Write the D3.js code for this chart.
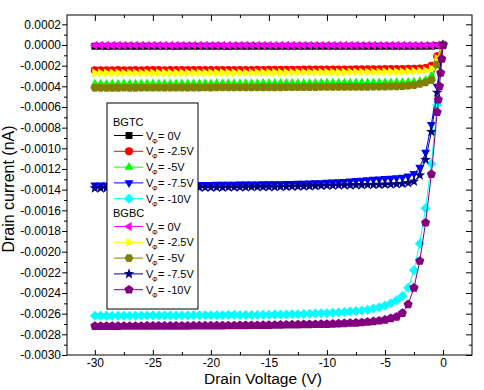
<!DOCTYPE html>
<html>
<head>
<meta charset="utf-8">
<script src="https://cdn.jsdelivr.net/npm/d3@7"></script>
<style>
body { margin: 0; background: #fff; }
text { font-family: "Liberation Sans", Arial, sans-serif; }
.legend text { font-family: "Liberation Sans Narrow", "Liberation Sans", Arial, sans-serif; }
</style>
</head>
<body>
<div class="ivChart"></div>
<script>
// drain voltage (V)
var drainV = [-30,-29.5,-29,-28.5,-28,-27.5,-27,-26.5,-26,-25.5,
  -25,-24.5,-24,-23.5,-23,-22.5,-22,-21.5,-21,-20.5,
  -20,-19.5,-19,-18.5,-18,-17.5,-17,-16.5,-16,-15.5,
  -15,-14.5,-14,-13.5,-13,-12.5,-12,-11.5,-11,-10.5,
  -10,-9.5,-9,-8.5,-8,-7.5,-7,-6.5,-6,-5.5,
  -5,-4.5,-4,-3.5,-3,-2.5,-2,-1.5,-1,-0.5,0];

// drain current, in units of 1e-4 nA
var bgtc0 = [-0.12,-0.12,-0.13,-0.12,-0.12,-0.12,-0.12,-0.13,-0.12,-0.12,
  -0.12,-0.12,-0.12,-0.12,-0.13,-0.12,-0.12,-0.12,-0.12,-0.12,
  -0.12,-0.12,-0.12,-0.13,-0.12,-0.12,-0.12,-0.12,-0.12,-0.12,
  -0.12,-0.13,-0.12,-0.12,-0.12,-0.12,-0.12,-0.12,-0.12,-0.12,
  -0.12,-0.12,-0.12,-0.12,-0.12,-0.12,-0.12,-0.12,-0.12,-0.12,
  -0.12,-0.12,-0.12,-0.12,-0.12,-0.12,-0.12,-0.12,-0.11,-0.07,0];
var bgtc25 = [-2.45,-2.46,-2.45,-2.45,-2.44,-2.45,-2.45,-2.44,-2.45,-2.44,
  -2.44,-2.44,-2.45,-2.44,-2.43,-2.44,-2.44,-2.43,-2.44,-2.43,
  -2.43,-2.43,-2.43,-2.42,-2.43,-2.42,-2.42,-2.42,-2.41,-2.42,
  -2.41,-2.41,-2.41,-2.40,-2.40,-2.40,-2.39,-2.39,-2.39,-2.38,
  -2.38,-2.38,-2.37,-2.37,-2.37,-2.36,-2.36,-2.35,-2.35,-2.35,
  -2.34,-2.34,-2.33,-2.32,-2.31,-2.30,-2.28,-2.24,-2.02,-1.10,0];
var bgtc5 = [-3.76,-3.76,-3.77,-3.76,-3.76,-3.75,-3.76,-3.76,-3.75,-3.75,
  -3.75,-3.75,-3.75,-3.74,-3.75,-3.74,-3.74,-3.74,-3.74,-3.73,
  -3.74,-3.73,-3.73,-3.73,-3.72,-3.73,-3.72,-3.72,-3.72,-3.71,
  -3.71,-3.71,-3.71,-3.70,-3.70,-3.70,-3.69,-3.69,-3.69,-3.68,
  -3.68,-3.68,-3.67,-3.67,-3.67,-3.66,-3.66,-3.66,-3.65,-3.65,
  -3.64,-3.64,-3.63,-3.62,-3.60,-3.57,-3.52,-3.40,-3.00,-1.60,0];
var bgtc75 = [-13.55,-13.55,-13.55,-13.55,-13.54,-13.54,-13.54,-13.54,-13.53,-13.53,
  -13.53,-13.52,-13.52,-13.52,-13.51,-13.51,-13.51,-13.50,-13.50,-13.50,
  -13.50,-13.49,-13.49,-13.48,-13.48,-13.47,-13.47,-13.46,-13.46,-13.45,
  -13.45,-13.44,-13.43,-13.42,-13.41,-13.40,-13.39,-13.37,-13.35,-13.33,
  -13.30,-13.27,-13.24,-13.21,-13.17,-13.13,-13.09,-13.05,-13.01,-12.97,
  -12.93,-12.90,-12.86,-12.80,-12.70,-12.45,-11.85,-10.40,-7.70,-4.00,0];
var bgtc10 = [-26.20,-26.20,-26.20,-26.20,-26.19,-26.19,-26.19,-26.19,-26.18,-26.18,
  -26.18,-26.18,-26.18,-26.17,-26.17,-26.17,-26.17,-26.16,-26.16,-26.16,
  -26.15,-26.15,-26.15,-26.14,-26.14,-26.13,-26.13,-26.12,-26.12,-26.11,
  -26.10,-26.09,-26.08,-26.07,-26.06,-26.05,-26.03,-26.01,-25.99,-25.97,
  -25.95,-25.92,-25.89,-25.85,-25.80,-25.75,-25.70,-25.63,-25.50,-25.38,
  -25.20,-25.00,-24.70,-24.30,-23.50,-21.80,-19.20,-15.80,-11.50,-5.80,0];

var bgbc0 = [-0.02,-0.02,-0.02,-0.02,-0.02,-0.02,-0.02,-0.02,-0.02,-0.02,
  -0.02,-0.02,-0.02,-0.02,-0.02,-0.02,-0.02,-0.02,-0.02,-0.02,
  -0.02,-0.02,-0.02,-0.02,-0.02,-0.02,-0.02,-0.02,-0.02,-0.02,
  -0.02,-0.02,-0.02,-0.02,-0.02,-0.02,-0.02,-0.02,-0.02,-0.02,
  -0.02,-0.02,-0.02,-0.02,-0.02,-0.02,-0.02,-0.02,-0.02,-0.02,
  -0.02,-0.02,-0.02,-0.02,-0.02,-0.02,-0.02,-0.02,-0.02,-0.01,0];
var bgbc25 = [-2.72,-2.72,-2.71,-2.72,-2.72,-2.71,-2.72,-2.71,-2.71,-2.71,
  -2.71,-2.71,-2.70,-2.71,-2.70,-2.70,-2.70,-2.70,-2.69,-2.70,
  -2.69,-2.69,-2.69,-2.68,-2.69,-2.68,-2.68,-2.68,-2.67,-2.67,
  -2.67,-2.67,-2.66,-2.66,-2.66,-2.65,-2.65,-2.65,-2.64,-2.64,
  -2.64,-2.63,-2.63,-2.63,-2.62,-2.62,-2.62,-2.61,-2.61,-2.61,
  -2.60,-2.60,-2.59,-2.58,-2.57,-2.55,-2.52,-2.47,-2.30,-1.30,0];
var bgbc5 = [-4.15,-4.15,-4.16,-4.15,-4.15,-4.14,-4.15,-4.15,-4.14,-4.14,
  -4.14,-4.14,-4.14,-4.13,-4.14,-4.13,-4.13,-4.13,-4.13,-4.12,
  -4.13,-4.12,-4.12,-4.12,-4.11,-4.12,-4.11,-4.11,-4.11,-4.10,
  -4.10,-4.10,-4.10,-4.09,-4.09,-4.09,-4.08,-4.08,-4.08,-4.07,
  -4.07,-4.07,-4.06,-4.06,-4.06,-4.05,-4.05,-4.05,-4.04,-4.04,
  -4.03,-4.02,-4.01,-3.99,-3.95,-3.88,-3.78,-3.62,-3.40,-1.90,0];
var bgbc75 = [-13.85,-13.85,-13.85,-13.84,-13.84,-13.84,-13.83,-13.83,-13.83,-13.82,
  -13.82,-13.82,-13.81,-13.81,-13.81,-13.80,-13.80,-13.80,-13.79,-13.79,
  -13.79,-13.78,-13.78,-13.77,-13.77,-13.76,-13.76,-13.75,-13.75,-13.74,
  -13.74,-13.73,-13.72,-13.71,-13.70,-13.69,-13.68,-13.66,-13.64,-13.62,
  -13.60,-13.59,-13.58,-13.57,-13.56,-13.55,-13.54,-13.53,-13.52,-13.51,
  -13.50,-13.48,-13.46,-13.42,-13.35,-13.20,-12.60,-11.10,-8.40,-4.60,0];
var bgbc10 = [-27.20,-27.20,-27.20,-27.20,-27.20,-27.19,-27.19,-27.19,-27.19,-27.18,
  -27.18,-27.18,-27.18,-27.18,-27.17,-27.17,-27.17,-27.16,-27.16,-27.16,
  -27.15,-27.15,-27.15,-27.14,-27.14,-27.13,-27.13,-27.12,-27.12,-27.11,
  -27.10,-27.09,-27.08,-27.07,-27.06,-27.05,-27.04,-27.03,-27.02,-27.01,
  -27.00,-26.98,-26.96,-26.93,-26.90,-26.88,-26.85,-26.80,-26.75,-26.68,
  -26.60,-26.45,-26.30,-25.95,-25.10,-23.50,-20.90,-17.20,-12.50,-6.50,0];
// extra fine steps of the last BGBC curve near 0 V
var bgbc10TailV = [-0.4,-0.3,-0.2,-0.1];
var bgbc10TailI = [-5.30,-4.00,-2.70,-1.35];

var groups = ["BGTC", "BGBC"];
var gateLabels = ["0V", "-2.5V", "-5V", "-7.5V", "-10V"];
var xTicks = [-30, -25, -20, -15, -10, -5, 0];
var yTicks = [0.0002, 0, -0.0002, -0.0004, -0.0006, -0.0008, -0.0010, -0.0012, -0.0014,
  -0.0016, -0.0018, -0.0020, -0.0022, -0.0024, -0.0026, -0.0028, -0.0030];

var colors = [["#000000", "#ff0000", "#00ff00", "#0000ff", "#00ffff"],
              ["#ff00ff", "#ffff00", "#808000", "#000080", "#800080"]];
var shapes = [["square", "circle", "triUp", "triDown", "diamond"],
              ["triLeft", "triRight", "hexagon", "star", "pentagon"]];

var width = 484,
    height = 390,
    plotLeft = 67, plotRight = 472, plotTop = 15, plotBottom = 355;

var x = d3.scaleLinear().domain([-32.4, 2.5]).range([plotLeft, plotRight]);
var y = d3.scaleLinear().domain([-0.003, 0.00029]).range([plotBottom, plotTop]);

var svg = d3.select(".ivChart").append("svg")
    .attr("width", width)
    .attr("height", height);

// polygon marker centred on 0,0
function poly(n, r, rot) {
  var pts = d3.range(n).map(function(k) {
    var a = rot + k * 2 * Math.PI / n;
    return [r * Math.cos(a), r * Math.sin(a)];
  });
  return "M" + pts.join("L") + "Z";
}
function markerPath(shape) {
  switch (shape) {
    case "square": return poly(4, 4.9, Math.PI / 4);
    case "circle": return d3.symbol().type(d3.symbolCircle).size(52)();
    case "triUp": return poly(3, 5.2, -Math.PI / 2);
    case "triDown": return poly(3, 5.2, Math.PI / 2);
    case "triLeft": return poly(3, 5.2, Math.PI);
    case "triRight": return poly(3, 5.2, 0);
    case "diamond": return poly(4, 5, 0);
    case "hexagon": return poly(6, 4.4, 0);
    case "pentagon": return poly(5, 4.8, -Math.PI / 2);
    case "star":
      var pts = d3.range(10).map(function(k) {
        var a = -Math.PI / 2 + k * Math.PI / 5, r = k % 2 ? 2.3 : 5.6;
        return [r * Math.cos(a), r * Math.sin(a)];
      });
      return "M" + pts.join("L") + "Z";
  }
}

var seriesValues = [[bgtc0, bgtc25, bgtc5, bgtc75, bgtc10],
                    [bgbc0, bgbc25, bgbc5, bgbc75, bgbc10]];

var line = d3.line()
    .x(function(d) { return x(d[0]); })
    .y(function(d) { return y(d[1] * 1e-4); });

var plot = svg.append("g");
seriesValues.forEach(function(grp, g) {
  grp.forEach(function(vals, s) {
    var pts = drainV.map(function(v, i) { return [v, vals[i]]; });
    if (g == 1 && s == 4) {
      bgbc10TailV.forEach(function(v, i) { pts.push([v, bgbc10TailI[i]]); });
      pts.sort(function(a, b) { return a[0] - b[0]; });
    }
    plot.append("path")
        .datum(pts)
        .attr("d", line)
        .style("fill", "none")
        .style("stroke", colors[g][s])
        .style("stroke-width", 1);
    plot.selectAll(null)
        .data(pts)
        .enter()
        .append("path")
          .attr("d", markerPath(shapes[g][s]))
          .attr("transform", function(d) { return "translate(" + x(d[0]) + "," + y(d[1] * 1e-4) + ")"; })
          .style("fill", colors[g][s]);
  });
});

// axes
var fmtY = function(d) { return d.toFixed(4); };
var yMinor = yTicks.slice(1).map(function(d, i) { return (d + yTicks[i]) / 2; });
var xMinor = xTicks.slice(1).map(function(d, i) { return (d + xTicks[i]) / 2; });

function styleAxis(g) {
  g.select(".domain").remove();
  g.selectAll("line").style("stroke", "#000");
  g.selectAll("text").style("font-size", "12px").style("fill", "#000")
    .style("font-family", "'Liberation Sans', Arial, sans-serif");
}

svg.append("g").attr("transform", "translate(" + plotLeft + ",0)")
  .call(d3.axisLeft(y).tickValues(yTicks).tickSize(5).tickPadding(1).tickFormat(fmtY)).call(styleAxis);
svg.append("g").attr("transform", "translate(" + plotLeft + ",0)")
  .call(d3.axisLeft(y).tickValues(yMinor).tickSize(3).tickFormat("")).call(styleAxis);
svg.append("g").attr("transform", "translate(" + plotRight + ",0)")
  .call(d3.axisRight(y).tickValues(yTicks).tickSize(-6).tickFormat("")).call(styleAxis);
svg.append("g").attr("transform", "translate(" + plotRight + ",0)")
  .call(d3.axisRight(y).tickValues(yMinor).tickSize(-3).tickFormat("")).call(styleAxis);
svg.append("g").attr("transform", "translate(0," + plotBottom + ")")
  .call(d3.axisBottom(x).tickValues(xTicks).tickSize(-5).tickPadding(3).tickFormat(function(d) { return String(d); })).call(styleAxis);
svg.append("g").attr("transform", "translate(0," + plotBottom + ")")
  .call(d3.axisBottom(x).tickValues(xMinor).tickSize(-3).tickFormat("")).call(styleAxis);
svg.append("g").attr("transform", "translate(0," + plotTop + ")")
  .call(d3.axisTop(x).tickValues(xTicks).tickSize(-6).tickFormat("")).call(styleAxis);
svg.append("g").attr("transform", "translate(0," + plotTop + ")")
  .call(d3.axisTop(x).tickValues(xMinor).tickSize(-3).tickFormat("")).call(styleAxis);

svg.append("rect")
    .attr("x", plotLeft).attr("y", plotTop)
    .attr("width", plotRight - plotLeft).attr("height", plotBottom - plotTop)
    .style("fill", "none").style("stroke", "#000").style("stroke-width", 1);

svg.append("text")
    .attr("x", 263).attr("y", 384)
    .style("text-anchor", "middle").style("font-size", "15.5px")
    .text("Drain Voltage (V)");
svg.append("text")
    .attr("transform", "translate(14,189) rotate(-90)")
    .style("text-anchor", "middle").style("font-size", "16px")
    .text("Drain current (nA)");

// legend
var legend = svg.append("g").attr("class", "legend");
legend.append("rect")
    .attr("x", 107).attr("y", 103).attr("width", 91).attr("height", 206)
    .style("fill", "#fff").style("stroke", "#000").style("stroke-width", 1);

groups.forEach(function(name, g) {
  var y0 = 122 + g * 91;
  legend.append("text")
      .attr("x", 113).attr("y", y0 + 4)
      .style("font-size", "11px")
      .text(name);
  gateLabels.forEach(function(lab, s) {
    var ry = y0 + 13.5 + s * 15.8;
    legend.append("line")
        .attr("x1", 114).attr("x2", 143).attr("y1", ry).attr("y2", ry)
        .style("stroke", colors[g][s]).style("stroke-width", 1);
    legend.append("path")
        .attr("d", markerPath(shapes[g][s]))
        .attr("transform", "translate(129," + ry + ")")
        .style("fill", colors[g][s]);
    var t = legend.append("text").attr("y", ry + 4).style("font-size", "11px");
    t.append("tspan").attr("x", 146).text("V");
    t.append("tspan").attr("x", 152).attr("dy", 4).style("font-size", "7px").text("\u03A6");
    t.append("tspan").attr("x", 158).attr("dy", -4).text("= " + lab);
  });
});
</script>
</body>
</html>
